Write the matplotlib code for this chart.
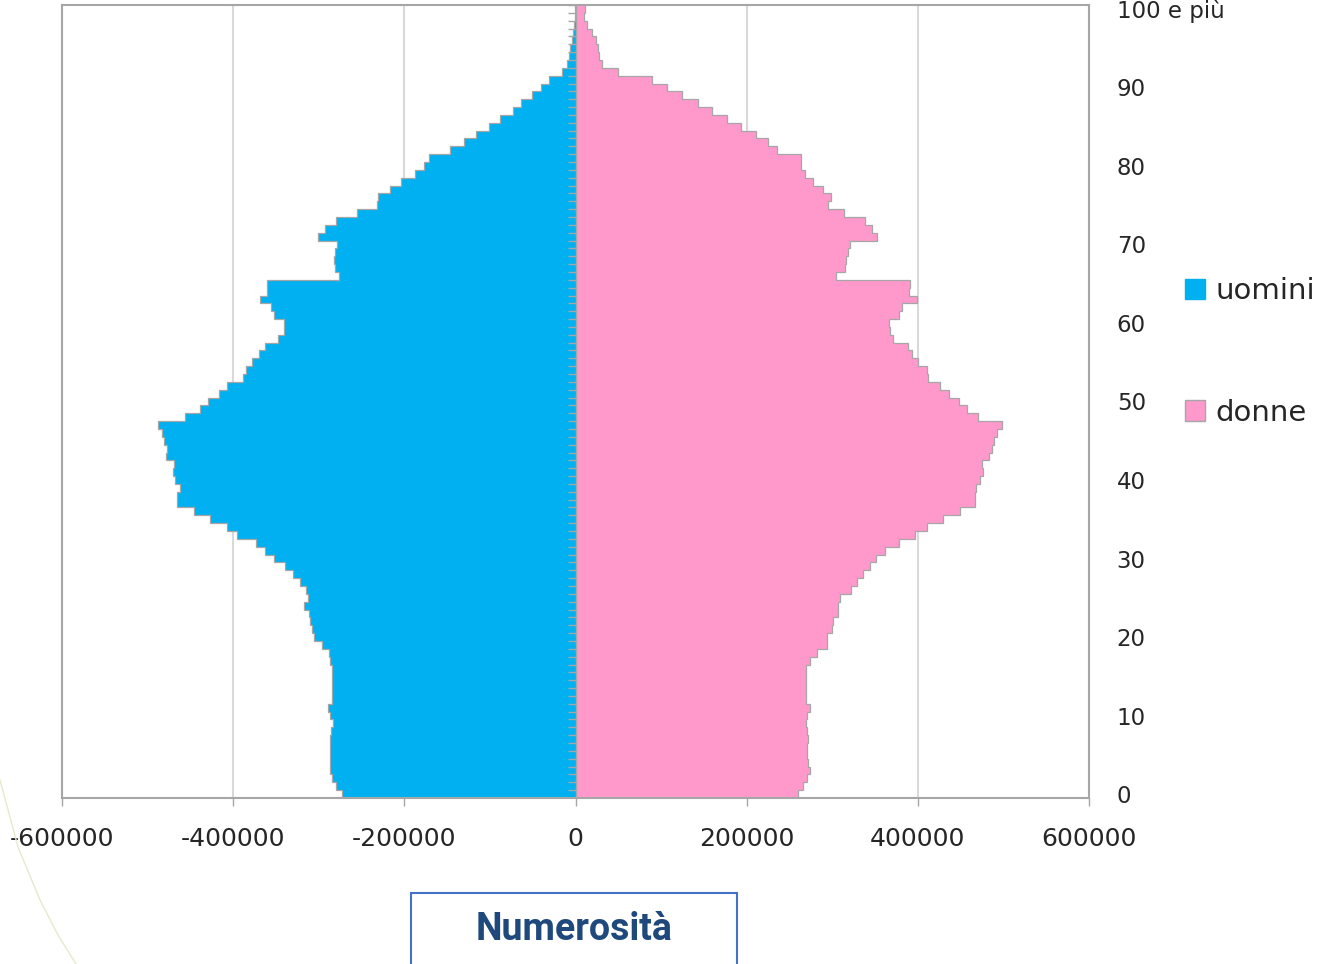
import numpy as np
import matplotlib
matplotlib.use("Agg")
import matplotlib.pyplot as plt
import matplotlib.patches as mpatches
from matplotlib.lines import Line2D


# Data: resident population by single year of age (0 .. "100 e più")
ages = np.arange(0, 101)

uomini = [
    272700, 279400, 284400, 287200, 287200, 287200, 287200, 287200, 285400, 283300,
    286400, 289500, 284400, 284400, 284400, 284400, 284400, 286400, 288400, 296100,
    305900, 307800, 309700, 311700, 317500, 312900, 314400, 322200, 330000, 338900,
    351800, 362300, 372800, 395300, 407000, 426500, 446000, 465400, 465400, 462300,
    468200, 470000, 469300, 479000, 477000, 481000, 482900, 488000, 455700, 439000,
    429600, 416000, 407000, 388300, 384800, 377800, 370100, 362300, 347500, 340900,
    340900, 351800, 355700, 368100, 360300, 360300, 276700, 280500, 282500, 280500,
    278600, 301200, 292200, 279400, 255200, 231900, 230700, 217100, 203900, 187100,
    177400, 171600, 147100, 130700, 116700, 100800, 87900, 73500, 63700, 50900,
    40400, 31500, 16000, 10000, 8000, 6000, 4500, 2500, 1500, 1000,
    500,
]

donne = [
    260300, 266200, 271000, 274000, 272000, 271000, 270100, 272000, 270100, 269300,
    270100, 274000, 269300, 269300, 269300, 269300, 269300, 274000, 281800, 293500,
    293500, 299300, 301200, 307000, 307000, 309000, 321500, 329200, 336200, 344000,
    351000, 361600, 378300, 396600, 411000, 429600, 449100, 466700, 466700, 467800,
    472500, 476300, 474500, 483400, 486100, 488800, 492000, 497800, 470500, 457700,
    448300, 436700, 425800, 412100, 411000, 400500, 392700, 388800, 370500, 367400,
    366600, 378300, 381000, 398500, 390000, 390800, 304400, 314800, 316000, 318700,
    320700, 352600, 346000, 338200, 313300, 295400, 298500, 289600, 277900, 268200,
    263500, 263500, 235100, 224600, 210600, 193100, 176700, 159200, 142900, 124200,
    107400, 89200, 49500, 31500, 28000, 26100, 24200, 19100, 14000, 10200,
    11300,
]

x_ticks = [-600000, -400000, -200000, 0, 200000, 400000, 600000]
y_ticks = [0, 10, 20, 30, 40, 50, 60, 70, 80, 90, 100]
y_labels = ["0", "10", "20", "30", "40", "50", "60", "70", "80", "90", "100 e più"]

col_m = "#00B0F0"
col_f = "#FF99CC"
col_edge = "#A6A6A6"
col_grid = "#D9D9D9"
col_text = "#262626"

plt.rcParams["font.family"] = ["DejaVu Sans"]

W, H = 1326, 964
fig = plt.figure(figsize=(W / 100, H / 100), dpi=100)
ax = fig.add_axes([62 / W, 1 - 798 / H, (1089 - 62) / W, (798 - 5) / H])

males = -np.array(uomini)
females = np.array(donne)
edges = np.arange(-0.5, 101.5, 1)

ax.barh(ages, males, height=1.0, color=col_m, linewidth=0, antialiased=False, zorder=2)
ax.barh(ages, females, height=1.0, color=col_f, linewidth=0, antialiased=False, zorder=2)
# step outline of both halves
ax.stairs(males, edges, orientation="horizontal", baseline=None, color=col_edge, lw=0.9, zorder=3)
ax.stairs(females, edges, orientation="horizontal", baseline=None, color=col_edge, lw=0.9, zorder=3)

# category axis at zero with its small tick marks
ax.axvline(0, color=col_edge, lw=1, zorder=3)
ax.hlines(edges, -8500, 0, colors=col_edge, lw=1, zorder=3)

ax.set_xlim(-600000, 600000)
ax.set_ylim(-0.5, 100.5)
ax.set_xticks(x_ticks)
ax.set_xticklabels([str(v) for v in x_ticks])
ax.set_yticks(y_ticks)
ax.set_yticklabels(y_labels)
ax.yaxis.tick_right()

ax.grid(axis="x", color=col_grid, lw=1.5, zorder=0)
ax.set_axisbelow(True)
for s in ax.spines.values():
    s.set_color(col_edge)
    s.set_linewidth(1.5)

ax.tick_params(axis="x", length=6, width=1, color=col_edge, pad=15,
               labelsize=18, labelcolor=col_text)
ax.tick_params(axis="y", length=0, pad=20, labelsize=16.5, labelcolor=col_text)

# legend
handles = [mpatches.Patch(facecolor=col_m, edgecolor=col_m, label="uomini"),
           mpatches.Patch(facecolor=col_f, edgecolor=col_edge, label="donne")]
fig.legend(handles=handles, loc="center left", bbox_to_anchor=(1185 / W, 1 - 352 / H),
           frameon=False, fontsize=21, handlelength=0.7, handleheight=0.7,
           handletextpad=0.35, labelspacing=3.2, borderpad=0, borderaxespad=0,
           labelcolor=col_text)

# slide decoration: thin arc on the lower left
fig.add_artist(Line2D([0 / W, 18 / W, 40 / W, 58 / W, 76 / W],
                      [1 - 780 / H, 1 - 847 / H, 1 - 900 / H, 1 - 935 / H, 1 - 964 / H],
                      color="#E3EBCD", lw=1.0))

# caption box
fig.add_artist(mpatches.Rectangle((411 / W, -0.02), 326 / W, (964 - 893) / H + 0.02,
                                  transform=fig.transFigure, facecolor="white",
                                  edgecolor="#4472C4", lw=1.5))
fig.text(574 / W, 1 - 930 / H, "Numerosità", ha="center", va="center",
         fontsize=27, fontweight="bold", color="#1F497D", family="Roboto")

fig.savefig("out.png", dpi=100)
